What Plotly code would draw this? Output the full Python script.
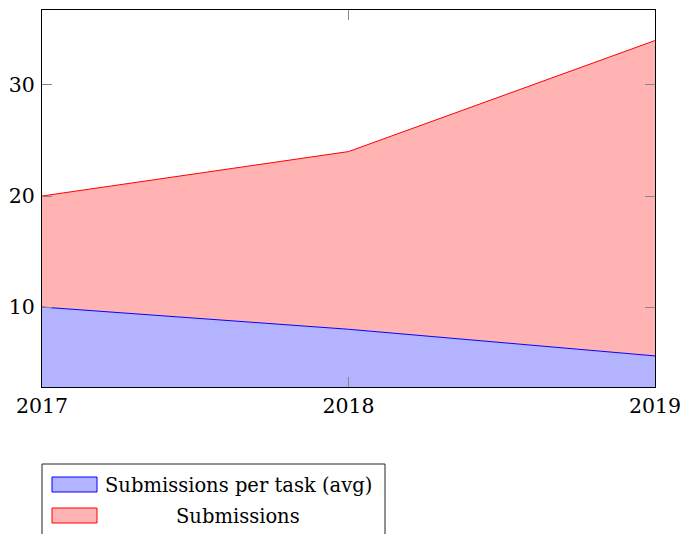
import plotly.graph_objects as go

years = [2017, 2018, 2019]
per_task_avg = [10.0, 8.0, 5.6]
submissions = [20.0, 24.0, 34.0]
legend_labels = ["Submissions per task (avg)", "Submissions"]

W, H = 682, 534
L, R, T, B = 42, 27, 10, 147
PW, PH = W - L - R, H - T - B
FONT = "DejaVu Serif"


def px(x):
    # pixel -> paper x
    return (x - L) / PW


def py(y):
    # pixel -> paper y
    return (H - B - y) / PH


fig = go.Figure()
fig.add_trace(go.Scatter(x=years, y=per_task_avg, mode="lines", name=legend_labels[0],
                         line=dict(color="#0000ff", width=1),
                         fill="tozeroy", fillcolor="rgb(179,179,255)"))
fig.add_trace(go.Scatter(x=years, y=submissions, mode="lines", name=legend_labels[1],
                         line=dict(color="#ff0000", width=1),
                         fill="tonexty", fillcolor="rgb(255,179,179)"))

# pgfplots-style legend box, cut off by the bottom edge
shapes = [dict(type="rect", xref="paper", yref="paper", x0=px(42), x1=px(385),
               y0=py(560), y1=py(464), line=dict(color="#222", width=1),
               fillcolor="white", layer="above")]
swatches = [("rgb(179,179,255)", "#0000ff", 477), ("rgb(255,179,179)", "#ff0000", 508)]
for fill, edge, top in swatches:
    shapes.append(dict(type="rect", xref="paper", yref="paper", x0=px(52), x1=px(97),
                       y0=py(top + 15), y1=py(top), line=dict(color=edge, width=1),
                       fillcolor=fill, layer="above"))

annotations = [
    dict(text=legend_labels[0], xref="paper", yref="paper", x=px(103), y=py(485),
         xanchor="left", yanchor="middle", showarrow=False,
         font=dict(family=FONT, size=19.5, color="black")),
    dict(text=legend_labels[1], xref="paper", yref="paper", x=px(238), y=py(516),
         xanchor="center", yanchor="middle", showarrow=False,
         font=dict(family=FONT, size=19.5, color="black")),
]

axis_common = dict(showgrid=False, zeroline=False, showline=True, linecolor="black",
                   linewidth=1, mirror="ticks", ticks="inside", ticklen=10,
                   tickcolor="#888", automargin=False,
                   tickfont=dict(family=FONT, size=20.5, color="black"))

fig.update_layout(
    width=W, height=H, margin=dict(l=L, r=R, t=T, b=B),
    paper_bgcolor="white", plot_bgcolor="white", showlegend=False,
    xaxis=dict(range=[2017, 2019], tickvals=years, ticktext=[str(y) for y in years],
               **axis_common),
    yaxis=dict(range=[2.8, 36.75], tickvals=[10, 20, 30], ticklabelstandoff=2,
               **axis_common),
    shapes=shapes, annotations=annotations,
)

# drop the default 8px page margin so the figure fills the window
fig.write_html("out.html", config={"displayModeBar": False},
               post_script="document.body.style.margin='0';"
                           "document.body.style.overflow='hidden';")
